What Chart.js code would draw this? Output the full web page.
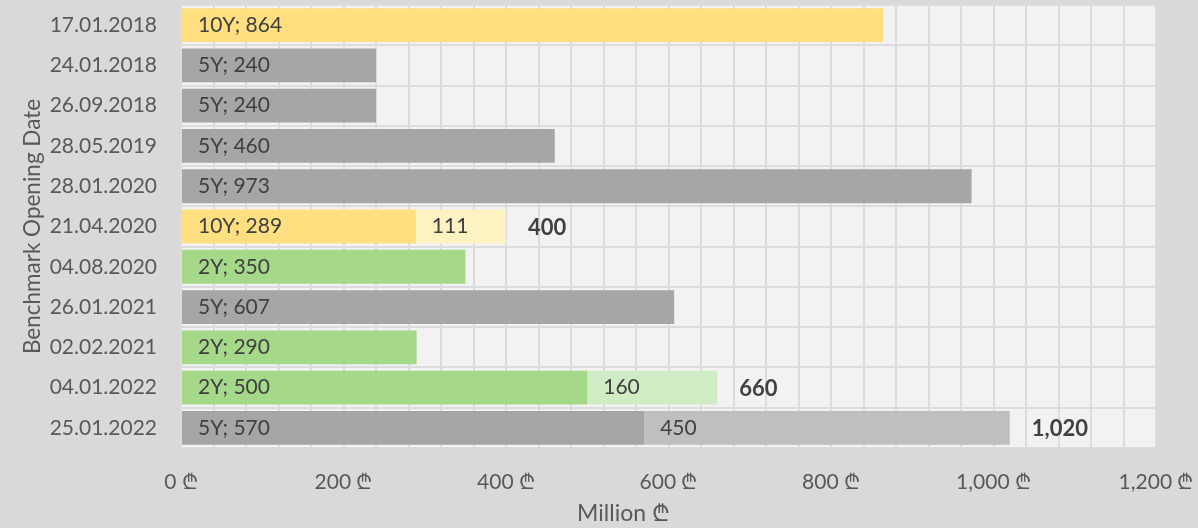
<!DOCTYPE html>
<html>
<head>
<meta charset="utf-8">
<script src="https://cdn.jsdelivr.net/npm/chart.js@4.4.1/dist/chart.umd.min.js"></script>
<style>
  html, body { margin: 0; padding: 0; background: #d9d9d9; }
  canvas { display: block; }
</style>
</head>
<body>
<canvas id="chart" width="1198" height="528"></canvas>
<script>
// Benchmark opening dates and issued amounts (million lari)
const categories = ["17.01.2018", "24.01.2018", "26.09.2018", "28.05.2019", "28.01.2020",
  "21.04.2020", "04.08.2020", "26.01.2021", "02.02.2021", "04.01.2022", "25.01.2022"];
const tenors = ["10Y", "5Y", "5Y", "5Y", "5Y", "10Y", "2Y", "5Y", "2Y", "2Y", "5Y"];
const openingAmounts = [864, 240, 240, 460, 973, 289, 350, 607, 290, 500, 570];
const reopeningAmounts = [null, null, null, null, null, 111, null, null, null, 160, 450];
const xTicks = [0, 200, 400, 600, 800, 1000, 1200];

const mainColors = { "10Y": "#ffdf80", "5Y": "#a6a6a6", "2Y": "#a5d889" };
const lightColors = { "10Y": "#fff2c2", "5Y": "#bfbfbf", "2Y": "#d0ecc4" };

const FONT = "Lato, 'Open Sans', sans-serif";

// Fill the plot area with a lighter grey
const plotBackground = {
  id: "plotBackground",
  beforeDraw(chart) {
    const { ctx, chartArea } = chart;
    ctx.save();
    ctx.fillStyle = "#f2f2f2";
    ctx.fillRect(chartArea.left, chartArea.top, chartArea.right - chartArea.left, chartArea.bottom - chartArea.top);
    ctx.restore();
  }
};

// Bar labels: "tenor; amount", reopening amount, and bold total
const barLabels = {
  id: "barLabels",
  afterDatasetsDraw(chart) {
    const { ctx } = chart;
    const first = chart.getDatasetMeta(0).data;
    const second = chart.getDatasetMeta(1).data;
    ctx.save();
    ctx.textBaseline = "middle";
    ctx.textAlign = "left";
    ctx.fillStyle = "#404040";
    first.forEach((bar, i) => {
      ctx.font = "21px " + FONT;
      ctx.fillText(tenors[i] + "; " + openingAmounts[i], bar.base + 16, bar.y);
      const extra = reopeningAmounts[i];
      if (extra != null) {
        const bar2 = second[i];
        ctx.fillText(String(extra), bar2.base + 16, bar2.y);
        ctx.font = "bold 22px " + FONT;
        ctx.fillText((openingAmounts[i] + extra).toLocaleString("en-US"), bar2.x + 22, bar2.y + 1);
      }
    });
    ctx.restore();
  }
};

// x axis title, sits a bit left of the plot centre like the original
const xTitle = {
  id: "xTitle",
  afterDraw(chart) {
    const { ctx, chartArea } = chart;
    ctx.save();
    ctx.font = "23px " + FONT;
    ctx.fillStyle = "#595959";
    ctx.textAlign = "center";
    ctx.textBaseline = "middle";
    ctx.fillText("Million \u20BE", (chartArea.left + chartArea.right) / 2 - 45, chart.height - 14);
    ctx.restore();
  }
};

// keep the plot area fixed: no extra label padding
function noPadding(scale) {
  scale.paddingTop = 0;
  scale.paddingBottom = 0;
  scale.paddingLeft = 0;
  scale.paddingRight = 0;
}

new Chart(document.getElementById("chart"), {
  type: "bar",
  data: {
    labels: categories,
    datasets: [
      {
        label: "Opening",
        data: openingAmounts,
        backgroundColor: tenors.map(t => mainColors[t]),
        categoryPercentage: 0.84,
        barPercentage: 1
      },
      {
        label: "Reopening",
        data: reopeningAmounts,
        backgroundColor: tenors.map(t => lightColors[t]),
        categoryPercentage: 0.84,
        barPercentage: 1
      }
    ]
  },
  options: {
    indexAxis: "y",
    responsive: false,
    animation: false,
    layout: { padding: { top: 5, right: 42, left: 0, bottom: 0 } },
    plugins: {
      legend: { display: false },
      tooltip: { enabled: false }
    },
    scales: {
      x: {
        stacked: true,
        min: 0,
        max: 1200,
        grid: { color: "#dcdcdc", lineWidth: 2, drawTicks: false },
        border: { display: false },
        ticks: {
          stepSize: 40,
          autoSkip: false,
          maxRotation: 0,
          padding: 22,
          color: "#595959",
          font: { family: FONT, size: 21 },
          callback: v => xTicks.includes(v) ? v.toLocaleString("en-US") + " \u20BE" : ""
        },
        title: { display: false },
        afterFit(scale) { scale.height = 80; noPadding(scale); }
      },
      y: {
        stacked: true,
        grid: { color: "#dcdcdc", lineWidth: 2, drawTicks: false },
        border: { display: false },
        ticks: {
          padding: 24,
          color: "#595959",
          font: { family: FONT, size: 21 }
        },
        title: {
          display: true,
          text: "Benchmark Opening Date",
          color: "#595959",
          font: { family: FONT, size: 22.5 },
          padding: { top: 19, bottom: 0 }
        },
        afterFit(scale) { scale.width = 181; noPadding(scale); }
      }
    }
  },
  plugins: [plotBackground, barLabels, xTitle]
});
</script>
</body>
</html>
